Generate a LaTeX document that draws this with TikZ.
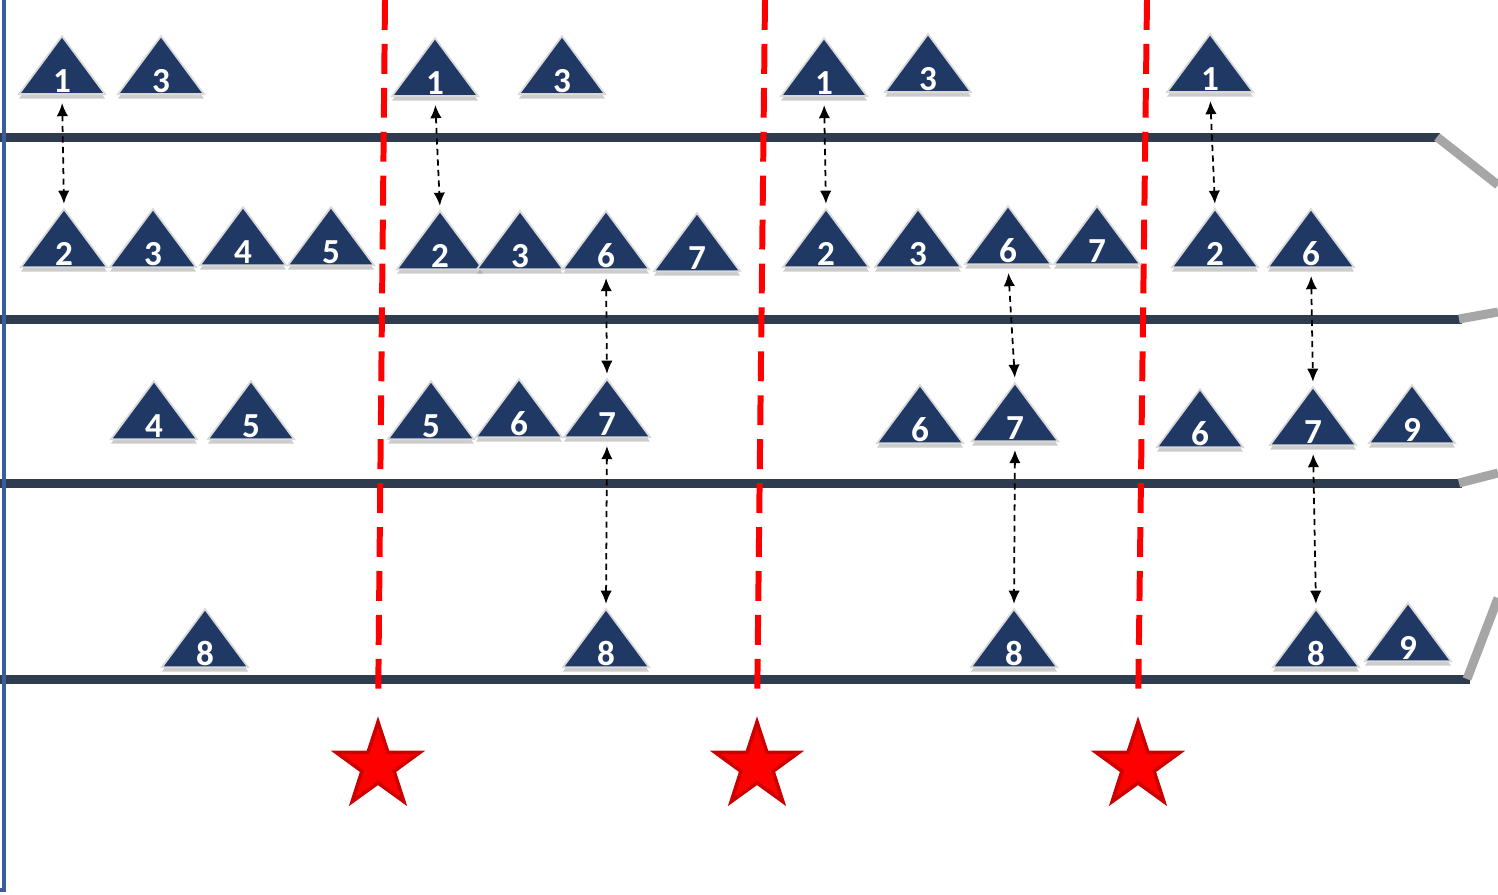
\documentclass[tikz,border=0pt]{standalone}
\usepackage{fontspec}
\setsansfont{Carlito}
\usetikzlibrary{arrows.meta,shapes.geometric,shadows}
\definecolor{navy}{RGB}{31,56,100}
\definecolor{lane}{RGB}{47,59,79}
\definecolor{lanegrey}{RGB}{166,166,166}
\definecolor{wall}{RGB}{58,93,160}
\definecolor{cut}{RGB}{255,0,0}
\definecolor{cutdark}{RGB}{204,0,0}
\tikzset{
  tri/.style={isosceles triangle, isosceles triangle stretches,
    shape border rotate=90, minimum width=1.72cm, minimum height=1.16cm,
    inner sep=0pt, fill=navy, draw=black!15, line width=1pt,
    drop shadow={shadow xshift=0pt, shadow yshift=-2.5pt, opacity=0.4}},
  num/.style={font=\sffamily\bfseries\fontsize{20}{21}\selectfont,
    text=white, anchor=base, yshift=1.5pt},
  link/.style={dash pattern=on 3.5pt off 2.5pt, line width=1pt,
    {Latex[length=7.5pt,width=6.5pt]}-{Latex[length=7.5pt,width=6.5pt]},
    shorten <=0.16cm, shorten >=0.06cm},
  cutline/.style={cut, line width=3.4pt, dash pattern=on 17pt off 8pt,
    shorten >=0.34cm},
  stopstar/.style={star, star points=5, star point ratio=2.6,
    minimum size=1.76cm, inner sep=0pt, fill=cut, draw=cutdark,
    line width=2pt}
}
\begin{document}
\begin{tikzpicture}[x=0.02cm, y=-0.02cm]
\clip (0,0) rectangle (1498,894);
% lanes
\foreach \y/\e/\gx/\gy in {137/1440/1498/185, 319/1462/1498/312,
                           483/1462/1498/473, 679/1470/1498/598} {
  \draw[lane, line width=0.18cm] (0,\y) -- (\e,\y);
  \draw[lanegrey, line width=0.18cm] (\e-3,\y) -- (\gx,\gy);
}
\draw[wall, line width=0.09cm] (4,0) -- (4,890) -- (0,890);
% cuts
\foreach \k/\tx/\sx in {1/385/378, 2/765/757, 3/1147/1138} {
  \coordinate (k\k) at (\tx,0);
  \node[stopstar] (s\k) at (\sx,766) {};
  \draw[cutline] (k\k) -- (s\k.north);
}
% triangles
\foreach \nm/\x/\y/\n in {
  a1/62/95/1, a2/161/95/3, a3/435/97/1, a4/562/95/3, a5/824/97/1,
  a6/928/93/3, a7/1210/93/1,
  b1/64/268/2, b2/153/268/3, b3/243/266/4, b4/331/266/5, b5/440/270/2,
  b6/520/270/3, b7/606/270/6, b8/697/272/7, b9/826/268/2, b10/918/268/3,
  b11/1008/265/6, b12/1097/265/7, b13/1215/268/2, b14/1311/268/6,
  c1/154/440/4, c2/251/440/5, c3/431/440/5, c4/519/438/6, c5/607/438/7,
  c6/920/444/6, c7/1015/442/7, c8/1200/448/6, c9/1313/446/7,
  c10/1412/444/9,
  d1/205/668/8, d2/606/668/8, d3/1014/668/8, d4/1316/668/8,
  d5/1408/662/9} {
  \node[tri, anchor=south, label={[num]south:\n}] (\nm) at (\x,\y) {};
}
% links
\foreach \p/\q in {a1/b1, a3/b5, a5/b9, a7/b13, b7/c5, b11/c7, b14/c9,
                   c5/d2, c7/d3, c9/d4} {
  \draw[link] (\p.south) -- (\q.apex);
}
\end{tikzpicture}
\end{document}
